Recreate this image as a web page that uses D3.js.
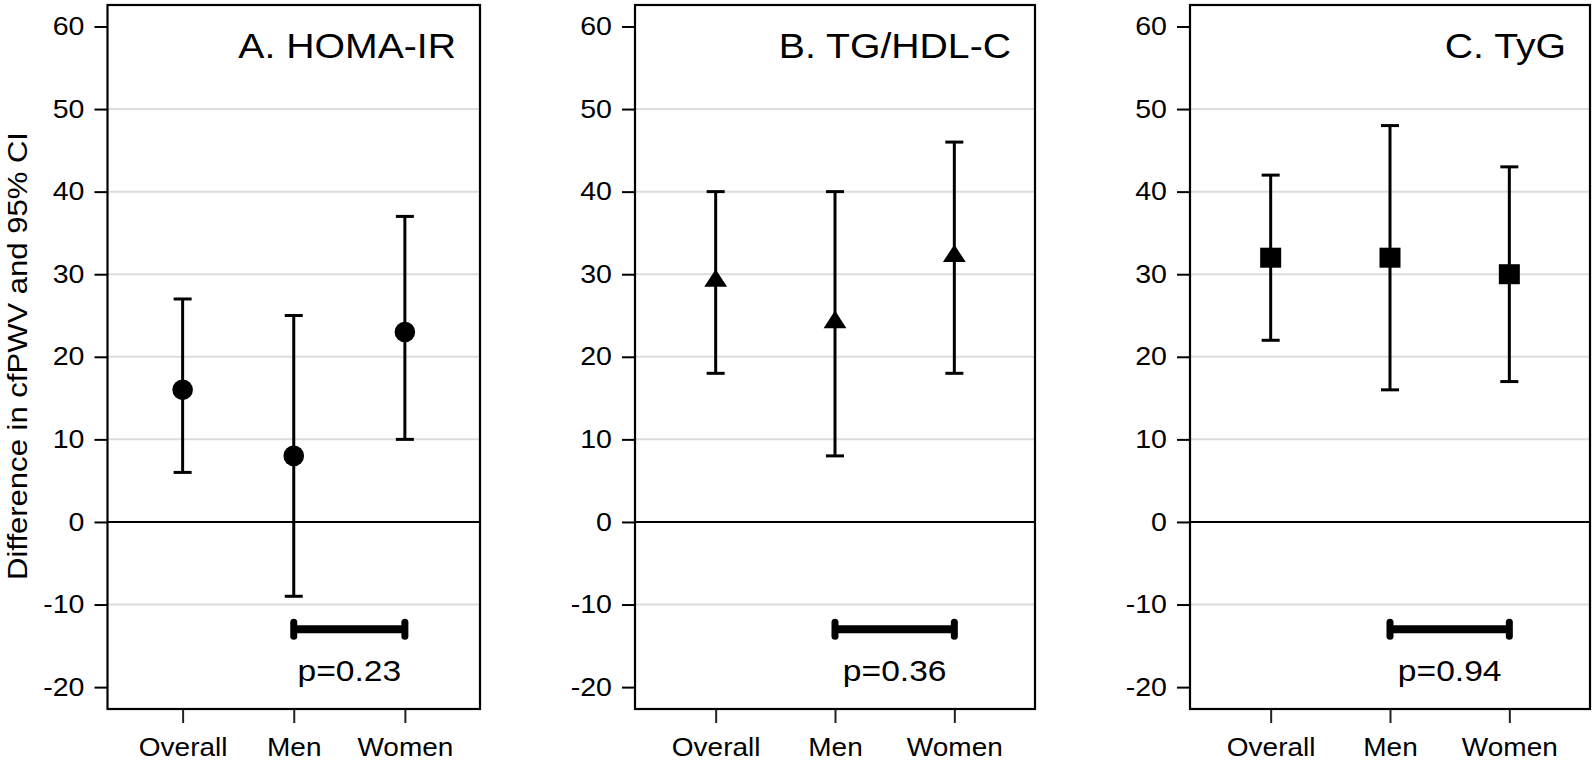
<!DOCTYPE html>
<html>
<head>
<meta charset="utf-8">
<script src="https://cdn.jsdelivr.net/npm/d3@7"></script>
<style>
  html, body { margin: 0; padding: 0; background: #fff; }
  svg { display: block; font-family: "Liberation Sans", Arial, sans-serif; }
</style>
</head>
<body>
<div id="chart"></div>
<script>
// Data
const categories = ['Overall', 'Men', 'Women'];
const panelTitles = ['A. HOMA-IR', 'B. TG/HDL-C', 'C. TyG'];
const markerShapes = ['circle', 'triangle', 'square'];

const homaEst = [16, 8, 23];
const homaLow = [6, -9, 10];
const homaHigh = [27, 25, 37];

const tgHdlEst = [29, 24, 32];
const tgHdlLow = [18, 8, 18];
const tgHdlHigh = [40, 40, 46];

const tygEst = [32, 32, 30];
const tygLow = [22, 16, 17];
const tygHigh = [42, 48, 43];

const pValueLabels = ['p=0.23', 'p=0.36', 'p=0.94'];
const bracketValue = -13;
const bracketFrom = 'Men';
const bracketTo = 'Women';

const yTicks = [-20, -10, 0, 10, 20, 30, 40, 50, 60];
const gridValues = [-10, 10, 20, 30, 40, 50];
const yTitle = 'Difference in cfPWV and 95% CI';

const panelData = [
  { est: homaEst, low: homaLow, high: homaHigh },
  { est: tgHdlEst, low: tgHdlLow, high: tgHdlHigh },
  { est: tygEst, low: tygLow, high: tygHigh }
];

// Layout
const width = 1595, height = 761;
const panelBoxes = [
  { left: 107.5, right: 480 },
  { left: 635, right: 1035 },
  { left: 1190, right: 1590 }
];
const plotTop = 5, plotBottom = 709;
const stretch = 1.12; // glyphs in the original are a bit wide

const svg = d3.select('#chart')
  .append('svg')
  .attr('width', width)
  .attr('height', height);

const y = d3.scaleLinear()
  .domain([-22.65, 62.6])
  .range([plotBottom, plotTop]);

function wideText(g, x, yPos, txt, size, anchor) {
  return g.append('text')
    .attr('transform', `translate(${x},${yPos}) scale(${stretch},1)`)
    .attr('text-anchor', anchor)
    .attr('font-size', size)
    .attr('fill', '#000')
    .text(txt);
}

panelBoxes.forEach((box, i) => {
  const g = svg.append('g');
  const d = panelData[i];

  const x = d3.scalePoint()
    .domain(categories)
    .range([box.left, box.right])
    .padding(0.676);

  // Gridlines
  g.selectAll('.grid')
    .data(gridValues)
    .enter()
    .append('line')
    .attr('x1', box.left)
    .attr('x2', box.right)
    .attr('y1', v => y(v))
    .attr('y2', v => y(v))
    .attr('stroke', '#dcdcdc')
    .attr('stroke-width', 2);

  // Zero line
  g.append('line')
    .attr('x1', box.left)
    .attr('x2', box.right)
    .attr('y1', y(0))
    .attr('y2', y(0))
    .attr('stroke', '#000')
    .attr('stroke-width', 2);

  // Axes (plain hyphen for negatives, as in the original)
  const yAxis = d3.axisLeft(y)
    .tickValues(yTicks)
    .tickFormat(v => String(v))
    .tickSize(13)
    .tickPadding(10);
  const ya = g.append('g')
    .attr('transform', `translate(${box.left},0)`)
    .call(yAxis);
  ya.select('.domain').remove();
  ya.selectAll('line').attr('stroke', '#000').attr('stroke-width', 2);
  ya.selectAll('text')
    .attr('font-size', 25.5)
    .attr('font-family', null)
    .attr('fill', '#000')
    .attr('x', -23 / stretch)
    .attr('transform', `scale(${stretch},1)`);

  const xAxis = d3.axisBottom(x).tickSize(14).tickPadding(15);
  const xa = g.append('g')
    .attr('transform', `translate(0,${plotBottom})`)
    .call(xAxis);
  xa.select('.domain').remove();
  xa.selectAll('line').attr('stroke', '#222').attr('stroke-width', 2);
  xa.selectAll('text')
    .attr('font-size', 25)
    .attr('font-family', null)
    .attr('fill', '#000')
    .attr('transform', `scale(${stretch},1)`);

  // Frame
  g.append('rect')
    .attr('x', box.left)
    .attr('y', plotTop)
    .attr('width', box.right - box.left)
    .attr('height', plotBottom - plotTop)
    .attr('fill', 'none')
    .attr('stroke', '#000')
    .attr('stroke-width', 2.2);

  // Panel title
  wideText(g, box.right - 24, 58, panelTitles[i], 35, 'end');

  // Error bars
  const rows = categories.map((c, k) => ({ c, est: d.est[k], low: d.low[k], high: d.high[k] }));
  const capW = 18;
  g.selectAll('.whisker')
    .data(rows)
    .enter()
    .append('line')
    .attr('x1', r => x(r.c))
    .attr('x2', r => x(r.c))
    .attr('y1', r => y(r.low))
    .attr('y2', r => y(r.high))
    .attr('stroke', '#000')
    .attr('stroke-width', 3);
  ['low', 'high'].forEach(key => {
    g.selectAll('.cap-' + key)
      .data(rows)
      .enter()
      .append('line')
      .attr('x1', r => x(r.c) - capW / 2)
      .attr('x2', r => x(r.c) + capW / 2)
      .attr('y1', r => y(r[key]))
      .attr('y2', r => y(r[key]))
      .attr('stroke', '#000')
      .attr('stroke-width', 3);
  });

  // Point markers
  const shape = markerShapes[i];
  const pts = g.selectAll('.pt').data(rows).enter();
  if (shape === 'circle') {
    pts.append('circle')
      .attr('cx', r => x(r.c))
      .attr('cy', r => y(r.est))
      .attr('r', 10.3)
      .attr('fill', '#000');
  } else if (shape === 'triangle') {
    const tri = d3.symbol().type(d3.symbolTriangle).size(180);
    pts.append('path')
      .attr('d', tri)
      .attr('transform', r => `translate(${x(r.c)},${y(r.est) - 1.5}) scale(${stretch},1)`)
      .attr('fill', '#000');
  } else {
    pts.append('rect')
      .attr('x', r => x(r.c) - 10.5)
      .attr('y', r => y(r.est) - 10)
      .attr('width', 21)
      .attr('height', 20)
      .attr('fill', '#000');
  }

  // Comparison bracket and p-value
  const bx1 = x(bracketFrom), bx2 = x(bracketTo), by = y(bracketValue);
  g.append('line')
    .attr('x1', bx1).attr('x2', bx2)
    .attr('y1', by).attr('y2', by)
    .attr('stroke', '#000')
    .attr('stroke-width', 8);
  [bx1, bx2].forEach(bx => {
    g.append('line')
      .attr('x1', bx).attr('x2', bx)
      .attr('y1', by - 7).attr('y2', by + 7)
      .attr('stroke', '#000')
      .attr('stroke-width', 7)
      .attr('stroke-linecap', 'round');
  });
  wideText(g, (bx1 + bx2) / 2, by + 52, pValueLabels[i], 30, 'middle');
});

// Y axis title
svg.append('text')
  .attr('transform', `translate(27,356) rotate(-90)`)
  .attr('text-anchor', 'middle')
  .attr('font-size', 28)
  .attr('textLength', 448)
  .attr('lengthAdjust', 'spacingAndGlyphs')
  .attr('fill', '#000')
  .text(yTitle);
</script>
</body>
</html>
